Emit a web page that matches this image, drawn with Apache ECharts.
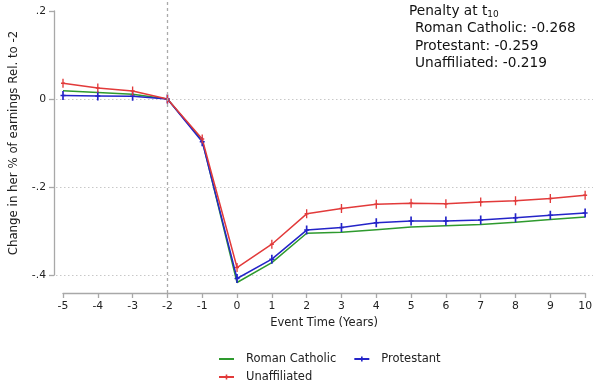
<!DOCTYPE html>
<html>
<head>
<meta charset="utf-8">
<script src="https://cdn.jsdelivr.net/npm/echarts@6/dist/echarts.min.js"></script>
<style>html,body{margin:0;padding:0;background:#fff}#c{width:595px;height:382px}</style>
</head>
<body>
<div id="c"></div>
<script>
const years = [-5,-4,-3,-2,-1,0,1,2,3,4,5,6,7,8,9,10];
const catholic = [0.019,0.015,0.011,0,-0.094,-0.417,-0.372,-0.305,-0.303,-0.297,-0.291,-0.288,-0.285,-0.280,-0.274,-0.268];
const protestant = [0.008,0.007,0.006,0,-0.097,-0.408,-0.364,-0.298,-0.292,-0.281,-0.277,-0.277,-0.275,-0.270,-0.264,-0.259];
const unaffiliated = [0.036,0.025,0.018,0,-0.091,-0.383,-0.330,-0.261,-0.249,-0.239,-0.237,-0.238,-0.234,-0.231,-0.226,-0.219];
const yTicks = [-0.4,-0.2,0,0.2];
const seriesNames = ['Roman Catholic','Protestant','Unaffiliated'];
const colors = ['#2e9a2e','#2424c8','#e23a3a'];

const FONT = 'DejaVu Sans';
const chart = echarts.init(document.getElementById('c'), null, {renderer:'canvas'});
const fmt = v => Math.abs(v) < 1e-9 ? '0' : String(+v.toFixed(1)).replace('0.', '.');
const barSym = 'path://M2,0h2v12h-2zM0,5h6v2h-6z';
const smallSym = 'path://M0,0L6,6M0,6L6,0';
function mk(i, vals, sym, size) {
  return {
    name: seriesNames[i], type: 'line', xAxisIndex: 1, yAxisIndex: 1,
    data: years.map((t, k) => [t, vals[k]]),
    color: colors[i],
    lineStyle: {width: 1.5, color: colors[i]},
    symbol: sym, symbolSize: size, showAllSymbol: true,
    itemStyle: {color: colors[i], borderColor: colors[i], borderWidth: 0},
    emphasis: {disabled: true}, animation: false
  };
}
const last = a => a[a.length - 1].toFixed(3);
const option = {
  animation: false,
  textStyle: {fontFamily: FONT},
  grid: [
    {left: 52, right: 2, top: 11, height: 264},
    {left: 63, width: 525, top: 0, height: 293},
    {left: 52, right: 2, top: 99, height: 176}
  ],
  xAxis: [
    {gridIndex: 0, type: 'value', show: false, min: 0, max: 1},
    {gridIndex: 1, type: 'value', min: -5, max: 10, interval: 1,
     axisLine: {show: true, onZero: false, lineStyle: {color: '#a8a8a8', width: 1.3}},
     axisTick: {show: true, length: 5, lineStyle: {color: '#a8a8a8', width: 1.3}},
     axisLabel: {color: '#222', fontSize: 10.8, fontFamily: FONT, margin: 8},
     splitLine: {show: false},
     name: 'Event Time (Years)', nameLocation: 'middle', nameGap: 24,
     nameTextStyle: {color: '#222', fontSize: 11.5, fontFamily: FONT}},
    {gridIndex: 2, type: 'value', show: false, min: 0, max: 1}
  ],
  yAxis: [
    {gridIndex: 0, type: 'value', min: -0.4, max: 0.2, interval: 0.2,
     axisLine: {show: true, onZero: false, lineStyle: {color: '#a8a8a8', width: 1.3}},
     axisTick: {show: true, length: 5, lineStyle: {color: '#a8a8a8', width: 1.3}},
     axisLabel: {color: '#222', fontSize: 10.8, fontFamily: FONT, margin: 8, formatter: fmt},
     splitLine: {show: false},
     name: 'Change in her % of earnings Rel. to -2', nameLocation: 'middle', nameGap: 34,
     nameTextStyle: {color: '#222', fontSize: 11.8, fontFamily: FONT}},
    {gridIndex: 1, type: 'value', show: false, min: -0.44091, max: 0.225, splitLine: {show: false}},
    {gridIndex: 2, type: 'value', min: -0.4, max: 0, interval: 0.2,
     axisLine: {show: false}, axisTick: {show: false}, axisLabel: {show: false},
     splitLine: {show: true, lineStyle: {color: '#c8c8c8', type: [1.5, 2.5], width: 1}}}
  ],
  legend: [
    {data: seriesNames.slice(0, 2), left: 213, top: 348, itemWidth: 15, itemHeight: 6, itemGap: 17,
     textStyle: {color: '#222', fontSize: 11.5, fontFamily: FONT, padding: [0, 0, 0, 7]}, selectedMode: false},
    {data: seriesNames.slice(2), left: 213, top: 366, itemWidth: 15, itemHeight: 6, itemGap: 17,
     textStyle: {color: '#222', fontSize: 11.5, fontFamily: FONT, padding: [0, 0, 0, 7]}, selectedMode: false}
  ],
  graphic: [
    {type: 'text', left: 409, top: 3, style: {
      text: '{a|Penalty at t}{s|10}', fill: '#111', font: '13.7px ' + FONT,
      rich: {a: {fontSize: 13.7, fontFamily: FONT, fill: '#111', lineHeight: 18},
             s: {fontSize: 9, fontFamily: FONT, fill: '#111', lineHeight: 18, padding: [7, 0, 0, 0]}}}},
    {type: 'text', left: 415, top: 20, style: {
      text: seriesNames[0] + ': ' + last(catholic) + '\n' + seriesNames[1] + ': ' + last(protestant) + '\n' + seriesNames[2] + ': ' + last(unaffiliated),
      fill: '#111', font: '13.7px ' + FONT, lineHeight: 17.5}}
  ],
  series: [
    Object.assign(mk(0, catholic, smallSym, 4), {
      markLine: {silent: true, symbol: 'none', label: {show: false},
        lineStyle: {color: '#aaaaaa', type: [3, 3], width: 1.3},
        data: [{xAxis: -2}]}
    }),
    mk(1, protestant, barSym, [5, 9]),
    mk(2, unaffiliated, barSym, [4, 9])
  ]
};
chart.setOption(option);
</script>
</body>
</html>
